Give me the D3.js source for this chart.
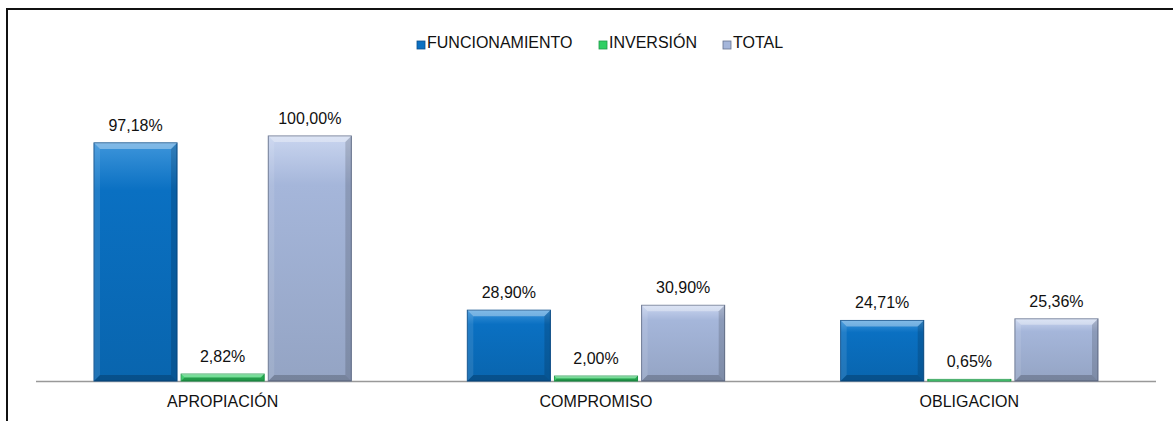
<!DOCTYPE html>
<html><head><meta charset="utf-8">
<script src="https://cdn.jsdelivr.net/npm/d3@7"></script>
<style>body{margin:0;background:#fff}svg{display:block}text{font-family:"Liberation Sans",Arial,sans-serif}</style>
</head><body><svg id="c" width="1173" height="421"></svg>
<script>
const categories = ["APROPIACIÓN","COMPROMISO","OBLIGACION"];
const seriesNames = ["FUNCIONAMIENTO","INVERSIÓN","TOTAL"];
const funcionamiento = [97.18, 28.90, 24.71];
const inversion = [2.82, 2.00, 0.65];
const total = [100.00, 30.90, 25.36];
const seriesValues = [funcionamiento, inversion, total];
const colors = [
  {main:"#0a70c2", light:"#3d95db", edge:"#0b4f8c"},
  {main:"#2fcf63", light:"#7fe8a0", edge:"#1f9a4a"},
  {main:"#a5b6da", light:"#c9d5ef", edge:"#66738f"}
];

const svg = d3.select("#c");
// border
svg.append("path").attr("d","M7,421 L7,9 L1173,9").attr("fill","none").attr("stroke","#111").attr("stroke-width",2);

const x0 = d3.scaleBand().domain(categories).range([36,1156]).paddingInner(0).paddingOuter(0);
const x1 = d3.scaleBand().domain(seriesNames).range([58, x0.bandwidth()-58]).paddingInner(0.047).paddingOuter(0);
const y = d3.scaleLinear().domain([0,100]).range([381,136]);

const defs = svg.append("defs");
colors.forEach((c,i)=>{
  const g = defs.append("linearGradient").attr("id","g"+i).attr("x1",0).attr("y1",0).attr("x2",0).attr("y2",1);
  g.append("stop").attr("offset","0%").attr("stop-color",c.light);
  g.append("stop").attr("offset","20%").attr("stop-color",c.main);
  g.append("stop").attr("offset","100%").attr("stop-color",d3.color(c.main).darker(0.3));
});

// axis line
svg.append("line").attr("x1",36).attr("x2",1156).attr("y1",381.5).attr("y2",381.5).attr("stroke","#999").attr("stroke-width",1.5);

const data = [];
categories.forEach((cat,ci)=>seriesNames.forEach((s,si)=>data.push({cat,s,si,v:seriesValues[si][ci]})));

const bars = svg.append("g").selectAll("g").data(data).join("g");
bars.each(function(d){
  const g = d3.select(this);
  const bx = x0(d.cat)+x1(d.s), bw = x1.bandwidth();
  const top = y(d.v), bot = y(0);
  const h = bot-top;
  const c = colors[d.si];
  g.append("rect").attr("x",bx).attr("y",top).attr("width",bw).attr("height",h)
    .attr("fill","url(#g"+d.si+")").attr("stroke",c.edge).attr("stroke-width",1);
  const b = Math.min(6, h/2);
  if (h > 4) {
    g.append("polygon").attr("points",[[bx,top],[bx+bw,top],[bx+bw-b,top+b],[bx+b,top+b]].join(" "))
      .attr("fill","#fff").attr("opacity",0.35);
    g.append("polygon").attr("points",[[bx,top],[bx+b,top+b],[bx+b,bot-b],[bx,bot]].join(" "))
      .attr("fill","#fff").attr("opacity",0.1);
    g.append("polygon").attr("points",[[bx+bw,top],[bx+bw,bot],[bx+bw-b,bot-b],[bx+bw-b,top+b]].join(" "))
      .attr("fill","#000").attr("opacity",0.15);
    g.append("polygon").attr("points",[[bx,bot],[bx+bw,bot],[bx+bw-b,bot-b],[bx+b,bot-b]].join(" "))
      .attr("fill","#000").attr("opacity",0.2);
  } else {
    g.append("rect").attr("x",bx+1).attr("y",top).attr("width",bw-2).attr("height",Math.max(1,h/2)).attr("fill","#fff").attr("opacity",0.3);
  }
  g.append("text").attr("x",bx+bw/2).attr("y",top-12).attr("text-anchor","middle")
    .attr("font-size",16).attr("fill","#111")
    .text(d.v.toFixed(2).replace(".",",")+"%");
});

// category labels
svg.append("g").selectAll("text").data(categories).join("text")
  .attr("x",d=>x0(d)+x0.bandwidth()/2).attr("y",407).attr("text-anchor","middle")
  .attr("font-size",16).attr("fill","#111").text(d=>d);

// legend
const legendX = [417, 599, 723];
const lg = svg.append("g").selectAll("g").data(seriesNames).join("g")
  .attr("transform",(d,i)=>`translate(${legendX[i]},48)`);
lg.append("rect").attr("x",0).attr("y",-7).attr("width",8).attr("height",8)
  .attr("fill",(d,i)=>colors[i].main).attr("stroke",(d,i)=>colors[i].edge).attr("stroke-width",0.8);
lg.append("text").attr("x",10).attr("y",0).attr("font-size",16).attr("fill","#111").text(d=>d);
</script></body></html>
